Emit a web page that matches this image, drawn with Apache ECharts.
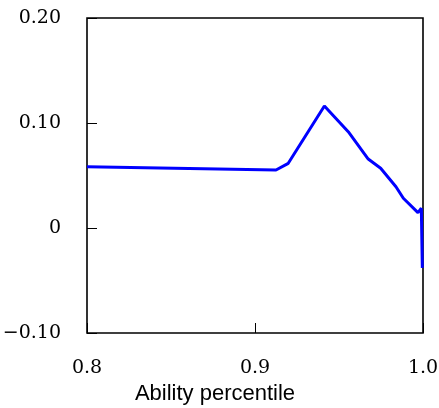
<!DOCTYPE html>
<html>
<head>
<meta charset="utf-8">
<script src="https://cdn.jsdelivr.net/npm/echarts@6/dist/echarts.min.js"></script>
<style>html,body{margin:0;padding:0;background:#fff;}#c{width:439px;height:408px;}</style>
</head>
<body>
<div id="c"></div>
<script>
var xValues = [0.8, 0.9125, 0.9198, 0.9413, 0.9555, 0.9674, 0.9748, 0.9839, 0.9883, 0.9970, 0.9990, 0.9996];
var yValues = [0.0584, 0.0552, 0.0616, 0.1162, 0.0917, 0.0657, 0.0569, 0.0393, 0.0283, 0.0146, 0.0188, -0.0380];
var xTicks = [0.8, 0.9, 1.0];
var yTickLabels = {"0.2": "0.20", "0.1": "0.10", "0": "0", "-0.1": "\u22120.10"};
var xLabel = "Ability percentile";

var data = xValues.map(function (x, i) { return [x, yValues[i]]; });
var chart = echarts.init(document.getElementById('c'), null, {renderer: 'canvas'});
chart.setOption({
  animation: false,
  grid: {left: 87, right: 16, top: 18, bottom: 75, show: true, borderColor: '#000', borderWidth: 1.6,
    backgroundColor: 'transparent', containLabel: false, outerBoundsMode: 'none'},
  xAxis: {
    type: 'value', min: 0.8, max: 1.0, interval: 0.1,
    name: xLabel, nameLocation: 'middle', nameGap: 47,
    nameTextStyle: {fontFamily: 'Liberation Sans', fontSize: 22, color: '#000', padding: [0, 80, 0, 0]},
    axisLine: {show: false, onZero: false},
    axisTick: {show: true, inside: true, length: 10, lineStyle: {color: '#000', width: 1}},
    splitLine: {show: false},
    axisLabel: {margin: 26, fontFamily: 'DejaVu Serif', fontSize: 19, color: '#000',
      formatter: function (v) { return v.toFixed(1); }}
  },
  yAxis: {
    type: 'value', min: -0.1, max: 0.2, interval: 0.1,
    axisLine: {show: false, onZero: false},
    axisTick: {show: true, inside: true, length: 10, lineStyle: {color: '#000', width: 1}},
    splitLine: {show: false},
    axisLabel: {margin: 26, fontFamily: 'DejaVu Serif', fontSize: 19, color: '#000',
      formatter: function (v) { var k = String(Math.round(v * 10) / 10); return yTickLabels[k] !== undefined ? yTickLabels[k] : k; }}
  },
  series: [{
    type: 'line', data: data, showSymbol: false, symbol: 'none',
    lineStyle: {color: '#0000ff', width: 3}, clip: true
  }]
});
</script>
</body>
</html>
